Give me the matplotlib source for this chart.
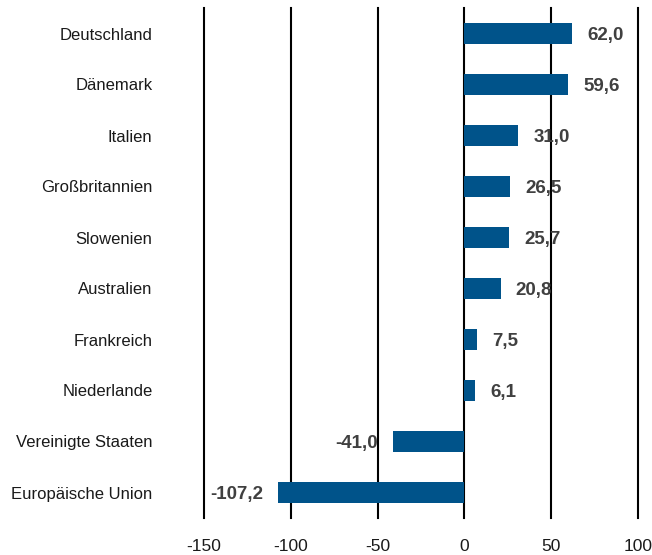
import matplotlib
matplotlib.use("Agg")
import matplotlib.pyplot as plt

countries = ["Deutschland", "Dänemark", "Italien", "Großbritannien", "Slowenien",
             "Australien", "Frankreich", "Niederlande", "Vereinigte Staaten", "Europäische Union"]
values = [62.0, 59.6, 31.0, 26.5, 25.7, 20.8, 7.5, 6.1, -41.0, -107.2]
xticks = [-150, -100, -50, 0, 50, 100]

plt.rcParams['font.family'] = ['Liberation Sans', 'DejaVu Sans']

fig = plt.figure(figsize=(6.52, 5.55), dpi=100)
ax = fig.add_axes([204/652, 1-518/555, (638-204)/652, (518-8)/555])

ypos = list(range(len(countries)))
ax.barh(ypos, values, height=0.4, color="#00538A", zorder=3)
ax.set_xlim(-150, 100)
ax.set_ylim(len(countries)-0.5, -0.5)
for x in xticks:
    ax.axvline(x, color="black", lw=1.5, zorder=2, clip_on=False)
for s in ax.spines.values():
    s.set_visible(False)
ax.set_xticks(xticks)
ax.set_xticklabels([str(t) for t in xticks], fontsize=12.5, color="#1a1a1a")
ax.set_yticks(ypos)
ax.set_yticklabels(countries, fontsize=12, color="#1a1a1a")
ax.tick_params(axis="both", length=0)
ax.tick_params(axis="y", pad=37)
ax.tick_params(axis="x", pad=15)

for y, v in zip(ypos, values):
    lbl = f"{v:.1f}".replace(".", ",")
    if v >= 0:
        ax.annotate(lbl, (v, y), xytext=(11, -1.5), textcoords="offset points",
                    ha="left", va="center", fontsize=13.5, fontweight="bold",
                    color="#404040", zorder=4)
    else:
        ax.annotate(lbl, (v, y), xytext=(-11, -1.5), textcoords="offset points",
                    ha="right", va="center", fontsize=13.5, fontweight="bold",
                    color="#404040", zorder=4)

fig.savefig("out.png", dpi=100)
